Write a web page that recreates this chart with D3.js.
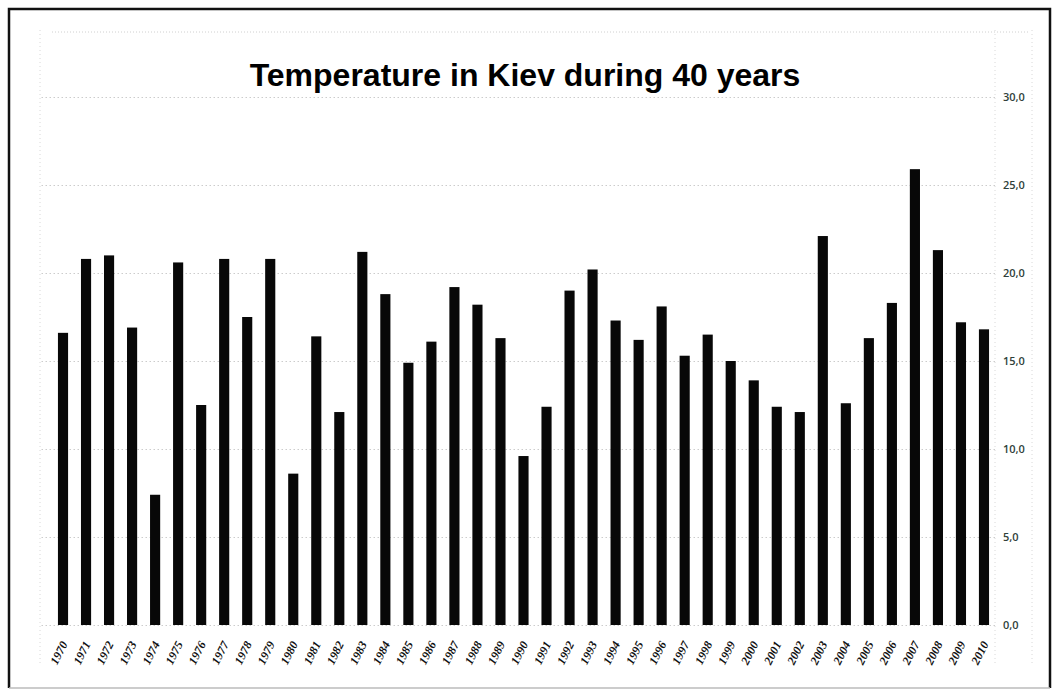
<!DOCTYPE html>
<html>
<head>
<meta charset="utf-8">
<script src="https://cdn.jsdelivr.net/npm/d3@7"></script>
<style>
  html, body { margin: 0; padding: 0; background: #fff; }
  svg { display: block; }
</style>
</head>
<body>
<svg id="chart" width="1056" height="693"></svg>
<script>
const years = [1970,1971,1972,1973,1974,1975,1976,1977,1978,1979,1980,1981,1982,1983,1984,1985,1986,1987,1988,1989,1990,1991,1992,1993,1994,1995,1996,1997,1998,1999,2000,2001,2002,2003,2004,2005,2006,2007,2008,2009,2010];
const temps = [16.6,20.8,21.0,16.9,7.4,20.6,12.5,20.8,17.5,20.8,8.6,16.4,12.1,21.2,18.8,14.9,16.1,19.2,18.2,16.3,9.6,12.4,19.0,20.2,17.3,16.2,18.1,15.3,16.5,15.0,13.9,12.4,12.1,22.1,12.6,16.3,18.3,25.9,21.3,17.2,16.8];
const yTicks = [0,5,10,15,20,25,30];
const titleText = "Temperature in Kiev during 40 years";

const svg = d3.select("#chart");

const x = d3.scaleBand()
  .domain(years.map(String))
  .range([51.5, 995.5])
  .paddingInner(0.56)
  .paddingOuter(0.28);

const y = d3.scaleLinear().domain([0, 30]).range([625, 97]);

// outer frame
svg.append("path")
  .attr("d", "M9,688 L9,9 L1050,9 L1050,688")
  .attr("fill", "none").attr("stroke", "#111").attr("stroke-width", 2.5);
svg.append("line")
  .attr("x1", 9).attr("x2", 1050).attr("y1", 688).attr("y2", 688)
  .attr("stroke", "#bbb").attr("stroke-width", 1.5);

// faint top dotted line
svg.append("line")
  .attr("x1", 52).attr("x2", 1030).attr("y1", 32).attr("y2", 32)
  .attr("stroke", "#d0d0d0").attr("stroke-dasharray", "1,2");

// faint vertical dotted lines
[40, 995, 1032].forEach(vx => {
  svg.append("line")
    .attr("x1", vx).attr("x2", vx).attr("y1", 30).attr("y2", 665)
    .attr("stroke", "#d8d8d8").attr("stroke-dasharray", "1,3");
});

// gridlines
const grid = d3.axisRight(y).tickValues(yTicks).tickSize(-(995 - 40)).tickFormat("");
svg.append("g")
  .attr("transform", "translate(995,0)")
  .call(grid)
  .call(g => g.select(".domain").remove())
  .call(g => g.selectAll("line").attr("stroke", "#cccccc").attr("stroke-dasharray", "1.5,2.5"));

// bars
svg.append("g").selectAll("rect")
  .data(temps)
  .join("rect")
  .attr("x", (d, i) => x(String(years[i])))
  .attr("width", x.bandwidth())
  .attr("y", d => y(d))
  .attr("height", d => y(0) - y(d))
  .attr("fill", "#080808");

// right y axis
const yAxis = d3.axisRight(y).tickValues(yTicks).tickSize(0).tickPadding(0)
  .tickFormat(d => d3.format(".1f")(d).replace(".", ","));
svg.append("g")
  .attr("transform", "translate(1003,0)")
  .call(yAxis)
  .call(g => g.select(".domain").remove())
  .call(g => g.selectAll("text")
    .attr("font-family", "'Open Sans', 'Liberation Sans', sans-serif")
    .attr("font-size", 11)
    .attr("font-weight", 600)
    .attr("fill", "#2f3f3a"));

// x axis labels (rotated)
const xAxis = d3.axisBottom(x).tickSize(0).tickPadding(0);
svg.append("g")
  .attr("transform", "translate(0,625)")
  .call(xAxis)
  .call(g => g.select(".domain").remove())
  .call(g => g.selectAll("text")
    .attr("font-family", "'Liberation Serif', 'DejaVu Serif', serif")
    .attr("font-size", 12)
    .attr("font-weight", "bold")
    .attr("font-style", "italic")
    .attr("fill", "#111")
    .attr("text-anchor", "end")
    .attr("dy", "0")
    .attr("transform", "translate(5,19) rotate(-63)"));

// title
svg.append("text")
  .attr("x", 525).attr("y", 86)
  .attr("text-anchor", "middle")
  .attr("font-family", "'Liberation Sans', Arial, sans-serif")
  .attr("font-weight", "bold")
  .attr("font-size", 32)
  .attr("fill", "#000")
  .text(titleText);
</script>
</body>
</html>
